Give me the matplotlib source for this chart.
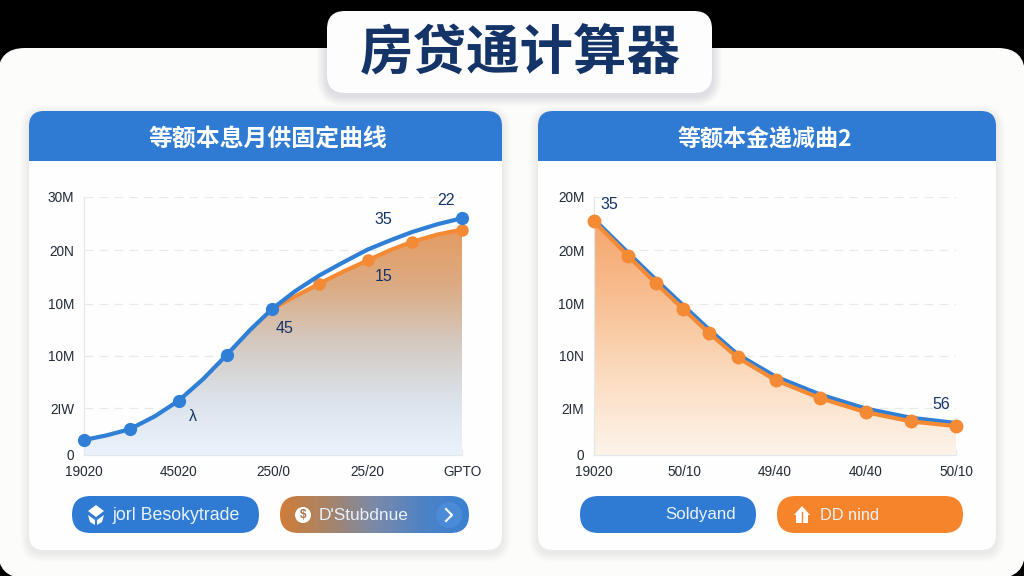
"""Mortgage calculator card: two loan curves on a dashboard style layout."""
import matplotlib
matplotlib.use("Agg")
import matplotlib.pyplot as plt
import numpy as np
from matplotlib.colors import LinearSegmentedColormap
from matplotlib.patches import Circle, FancyBboxPatch, Polygon, Rectangle

plt.rcParams["font.family"] = ["Liberation Sans", "Noto Sans CJK SC", "DejaVu Sans"]

W, H = 1024, 576
BLUE = "#2f7fd6"
ORANGE = "#f58a35"
NAVY = "#143468"
TEXT = "#222a36"

main_title = "房贷通计算器"
left_title = "等额本息月供固定曲线"
right_title = "等额本金递减曲2"

# left chart
left_x = [0, 0.237, 0.484, 0.749, 1, 1.26, 1.51, 1.756, 1.99, 2.23, 2.49, 2.75, 3, 3.24, 3.47, 3.735, 4]
left_blue = [0.29, 0.38, 0.5, 0.75, 1.05, 1.47, 1.94, 2.42, 2.83, 3.17, 3.48, 3.74, 3.98, 4.16, 4.32, 4.47, 4.59]
left_orange_x = [1.99, 2.23, 2.49, 2.75, 3, 3.24, 3.47, 3.735, 4]
left_orange = [2.83, 3.07, 3.32, 3.56, 3.77, 3.97, 4.13, 4.27, 4.37]
left_yticks = [0, 0.91, 1.92, 2.93, 3.97, 5]
left_ylabels = ["0", "2IW", "10M", "10M", "20N", "30M"]
left_xlabels = ["19020", "45020", "250/0", "25/20", "GPTO"]

# right chart
right_x = [0, 0.376, 0.683, 0.985, 1.273, 1.587, 2.007, 2.502, 3.003, 3.506, 4]
right_orange = [4.53, 3.86, 3.33, 2.83, 2.36, 1.89, 1.45, 1.10, 0.83, 0.65, 0.56]
right_blue = [4.57, 3.92, 3.40, 2.90, 2.43, 1.95, 1.52, 1.17, 0.90, 0.72, 0.62]
right_yticks = [0, 0.91, 1.92, 2.93, 3.97, 5]
right_ylabels = ["0", "2IM", "10N", "10M", "20M", "20M"]
right_xlabels = ["19020", "50/10", "49/40", "40/40", "50/10"]


def rbox(ax, x0, y0, x1, y1, r, **kw):
    p = FancyBboxPatch((x0, y0), x1 - x0, y1 - y0,
                       boxstyle=f"round,pad=0,rounding_size={r}", **kw)
    ax.add_patch(p)
    return p


def shadow(ax, x0, y0, x1, y1, r, dy=3, steps=9, alpha=0.007):
    for i in range(steps, 0, -1):
        rbox(ax, x0 - i, y0 - i + dy, x1 + i, y1 + i + dy, r + i,
             fc="#26344a", ec="none", alpha=alpha)


fig = plt.figure(figsize=(W / 100, H / 100), dpi=100, facecolor="black")
bg = fig.add_axes([0, 0, 1, 1], zorder=0)
bg.set_xlim(0, W)
bg.set_ylim(H, 0)
bg.axis("off")

# outer card
rbox(bg, -2, 48, W + 1, H + 2, 27, fc="#fcfcfa", ec="none")

# title plate
shadow(bg, 327, 11, 712, 93, 18, dy=3, steps=10, alpha=0.012)
rbox(bg, 327, 11, 712, 93, 18, fc="#fdfdfd", ec="none")
bg.text(520, 54, main_title, color=NAVY, fontsize=38.5, fontweight="bold",
        ha="center", va="center", family=["Noto Sans CJK SC", "DejaVu Sans"])

# panels with blue headers
for x0, x1, tx, title, size in [(29, 502, 268, left_title, 17.2), (538, 996, 765, right_title, 16.6)]:
    shadow(bg, x0, 111, x1, 550, 15)
    rbox(bg, x0, 111, x1, 550, 15, fc="#fefefe", ec="none")
    head = rbox(bg, x0, 111, x1, 190, 15, fc="#2f7ad2", ec="none")
    head.set_clip_path(Rectangle((x0, 100), x1 - x0, 61, transform=bg.transData))
    bg.text(tx, 139, title, color="white", fontsize=size,
            fontweight="bold", ha="center", va="center",
            family=["Noto Sans CJK SC", "DejaVu Sans"])


def make_axes(x0, x1):
    ax = fig.add_axes([x0 / W, 1 - 455 / H, (x1 - x0) / W, (455 - 197) / H], zorder=2)
    ax.patch.set_alpha(0)
    ax.set_xlim(0, 4)
    ax.set_ylim(0, 5)
    for side in ["top", "right"]:
        ax.spines[side].set_visible(False)
    for side in ["left", "bottom"]:
        ax.spines[side].set_color("#e4e7eb")
        ax.spines[side].set_linewidth(0.9)
    ax.grid(axis="y", color="#e9e9e6", lw=0.9, ls=(0, (7, 5)))
    ax.set_axisbelow(True)
    ax.tick_params(axis="x", direction="in", length=4, color="#e4e7eb",
                   labelsize=9.8, labelcolor=TEXT, pad=7)
    ax.tick_params(axis="y", length=0, labelsize=9.8, labelcolor=TEXT, pad=7)
    return ax


def gradient_fill(ax, xs, ys, colors):
    """Vertical colour ramp clipped to the area under a curve."""
    cmap = LinearSegmentedColormap.from_list("ramp", colors)
    ramp = np.linspace(1, 0, 256).reshape(-1, 1)
    top = max(ys)
    im = ax.imshow(ramp, cmap=cmap, vmin=0, vmax=1, aspect="auto",
                   extent=[0, 4, 0, top], zorder=1)
    area = ax.fill_between(xs, ys, 0, color="none")
    im.set_clip_path(area.get_paths()[0], transform=ax.transData)
    ax.set_xlim(0, 4)
    ax.set_ylim(0, 5)


# left chart
ax1 = make_axes(84, 462)
fill_x = left_x[:9] + left_orange_x[1:]
fill_y = left_blue[:9] + left_orange[1:]
gradient_fill(ax1, fill_x, fill_y,
              ["#eaf3fc", "#dbe2ea", "#d4c9c0", "#dcab83", "#e49c62"])
ax1.plot(left_orange_x, left_orange, color=ORANGE, lw=3, marker="o", ms=8,
         markevery=[2, 4, 6, 8], clip_on=False, zorder=3, solid_capstyle="round")
ax1.plot(left_x, left_blue, color=BLUE, lw=3, clip_on=False, zorder=4,
         solid_joinstyle="round", marker="o", ms=8.5, markevery=[0, 2, 4, 6, 8, 16])
ax1.set_xticks(range(5), left_xlabels)
ax1.set_yticks(left_yticks, left_ylabels)
for x, y, s in [(3.83, 4.93, "22"), (3.17, 4.56, "35"), (3.17, 3.45, "15"),
                (2.12, 2.45, "45"), (1.15, 0.75, "λ")]:
    ax1.text(x, y, s, color=NAVY, fontsize=11.5, ha="center", va="center", zorder=5)

# right chart
ax2 = make_axes(594, 956)
gradient_fill(ax2, right_x, right_orange,
              ["#fdf4ea", "#fbdcc0", "#f8bf92", "#f6a56d"])
ax2.plot(right_x, right_blue, color=BLUE, lw=3, clip_on=False, zorder=3)
ax2.plot(right_x, right_orange, color=ORANGE, lw=3, marker="o", ms=9,
         clip_on=False, zorder=4)
ax2.axvline(4, color="#eeeeee", lw=0.8, zorder=0)
ax2.set_xticks(range(5), right_xlabels)
ax2.set_yticks(right_yticks, right_ylabels)
for x, y, s in [(0.17, 4.86, "35"), (3.84, 0.97, "56")]:
    ax2.text(x, y, s, color=NAVY, fontsize=11.5, ha="center", va="center", zorder=5)

# bottom pills
rbox(bg, 72, 496, 259, 533, 18.5, fc="#2f7bd4", ec="none")
rbox(bg, 580, 496, 756, 533, 18.5, fc="#2f7bd4", ec="none")
rbox(bg, 777, 496, 963, 533, 18.5, fc="#f5842b", ec="none")
pill = rbox(bg, 280, 496, 469, 533, 18.5, fc="none", ec="none")
pill_cmap = LinearSegmentedColormap.from_list(
    "pill", ["#cf7d38", "#a88468", "#7b8aa8", "#4f82c4", "#3a80d3"])
im = bg.imshow(np.linspace(0, 1, 256).reshape(1, -1), cmap=pill_cmap, aspect="auto",
               extent=[280, 469, 533, 496], zorder=1)
im.set_clip_path(pill)
bg.set_xlim(0, W)
bg.set_ylim(H, 0)

for x, s, size in [(176, "jorl Besokytrade", 12.8), (364, "D'Stubdnue", 12.4),
                   (701, "Soldyand", 12.2), (850, "DD nind", 11.8)]:
    bg.text(x, 515, s, color="#eaf2fb", fontsize=size, ha="center", va="center", zorder=3)

# little pill icons
bg.add_patch(Polygon([(88, 511), (96, 505), (104, 511), (96, 517)], fc="white", ec="none", zorder=3))
bg.add_patch(Polygon([(88, 515), (95, 520), (95, 525), (90, 522)], fc="white", ec="none", zorder=3))
bg.add_patch(Polygon([(104, 515), (97, 520), (97, 525), (102, 522)], fc="white", ec="none", zorder=3))
bg.add_patch(Circle((303, 515), 8, fc="white", ec="none", zorder=3))
bg.text(303, 515, "$", color="#a5734d", fontsize=8.5, fontweight="bold",
        ha="center", va="center", zorder=4)
bg.add_patch(Circle((449, 515), 13, fc="#4a8ad6", ec="none", zorder=2))
bg.plot([446, 452, 446], [509, 515, 521], color="white", lw=1.5, zorder=3)
bg.add_patch(Polygon([(794, 515), (802, 506), (810, 515), (808, 515), (808, 523), (796, 523), (796, 515)],
                     fc="white", ec="none", zorder=3))
bg.plot([802, 802], [512, 523], color="#f5842b", lw=1, zorder=4)

fig.savefig("out.png", dpi=100, facecolor="black")
